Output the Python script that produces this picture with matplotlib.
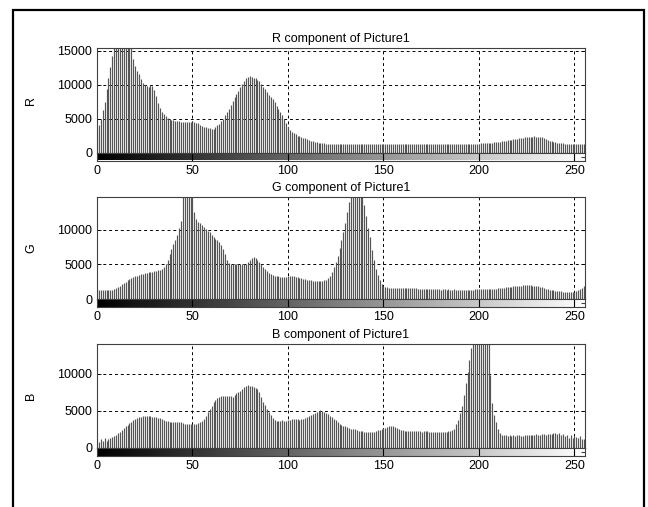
import numpy as np
import matplotlib
matplotlib.use("Agg")
import matplotlib.pyplot as plt
from matplotlib.patches import Rectangle

plt.rcParams['font.family'] = ['Liberation Sans', 'DejaVu Sans']

titles = ["R component of Picture1", "G component of Picture1", "B component of Picture1"]
ylabels = ["R", "G", "B"]
xtick_vals = [0, 50, 100, 150, 200, 250]

r_counts = [
    3500, 4100, 5000, 6300, 7500, 9300, 11000, 12600, 14200, 15800, 16600, 17200, 17500, 17300, 17000, 16600,
    16200, 15900, 15500, 13800, 12700, 12000, 11500, 10800, 10200, 9900, 9800, 9700, 9900, 9800, 9200, 8300,
    7300, 6600, 6000, 5600, 5300, 5100, 4950, 4850, 4750, 4700, 4650, 4600, 4550, 4500, 4500, 4480,
    4470, 4460, 4470, 4450, 4400, 4300, 4050, 3900, 3800, 3700, 3600, 3550, 3500, 3480, 3700, 4000,
    4200, 4600, 5000, 5500, 6000, 6400, 7000, 7600, 8100, 8600, 9100, 9600, 10100, 10500, 10900, 11100,
    11200, 11100, 11000, 10900, 10700, 10500, 10100, 9700, 9300, 8900, 8500, 8100, 7800, 7400, 6900, 6400,
    5900, 5500, 5000, 4300, 3700, 3300, 3000, 2800, 2700, 2500, 2400, 2300, 2200, 2100, 1950, 1850,
    1750, 1700, 1600, 1500, 1450, 1400, 1380, 1330, 1300, 1280, 1300, 1260, 1250, 1280, 1300, 1270,
    1260, 1290, 1300, 1280, 1250, 1270, 1300, 1260, 1280, 1290, 1270, 1250, 1280, 1300, 1270, 1260,
    1290, 1280, 1250, 1270, 1300, 1280, 1260, 1240, 1280, 1300, 1270, 1250, 1260, 1290, 1280, 1260,
    1240, 1270, 1300, 1280, 1250, 1260, 1290, 1300, 1270, 1250, 1280, 1260, 1240, 1270, 1290, 1280,
    1260, 1250, 1270, 1300, 1280, 1260, 1270, 1290, 1280, 1250, 1260, 1300, 1280, 1270, 1290, 1300,
    1310, 1290, 1280, 1300, 1320, 1310, 1290, 1300, 1320, 1330, 1350, 1340, 1380, 1400, 1420, 1450,
    1480, 1520, 1560, 1600, 1650, 1700, 1750, 1780, 1820, 1880, 1950, 2000, 2050, 2100, 2150, 2200,
    2250, 2280, 2300, 2320, 2350, 2360, 2350, 2340, 2330, 2300, 2200, 2050, 1900, 1750, 1650, 1550,
    1480, 1420, 1380, 1350, 1330, 1300, 1320, 1290, 1270, 1300, 1260, 1280, 1250, 1270, 1300, 1240,
]

g_counts = [
    1400, 1350, 1320, 1300, 1310, 1290, 1300, 1320, 1350, 1500, 1600, 1750, 1900, 2100, 2300, 2500,
    2700, 2850, 3000, 3150, 3250, 3350, 3450, 3550, 3650, 3700, 3800, 3850, 3900, 3950, 4000, 4050,
    4150, 4250, 4400, 4600, 5000, 5700, 6500, 7200, 7900, 8500, 9300, 10200, 11200, 15500, 17000, 18000,
    18500, 18000, 16500, 12500, 11500, 11100, 10900, 10700, 10400, 10100, 9800, 9600, 9300, 9000, 8700, 8500,
    8200, 7800, 7200, 6500, 5700, 5200, 5050, 5000, 4980, 5000, 5020, 5000, 4980, 5050, 5100, 5300,
    5600, 5900, 6050, 5950, 5700, 5400, 5000, 4600, 4300, 4000, 3800, 3600, 3450, 3350, 3300, 3250,
    3200, 3150, 3150, 3200, 3250, 3300, 3280, 3250, 3200, 3150, 3100, 3050, 2950, 2850, 2800, 2750,
    2700, 2650, 2600, 2550, 2550, 2600, 2650, 2700, 2800, 3000, 3300, 3900, 4600, 5400, 6200, 7300,
    8500, 9700, 11000, 12500, 14000, 15500, 17500, 18500, 19000, 18800, 17500, 15500, 13500, 12000, 10200, 9000,
    7000, 5600, 4400, 3500, 2700, 2200, 1900, 1750, 1700, 1650, 1620, 1600,
    1600, 1580, 1560, 1600, 1570, 1550, 1580, 1560, 1540, 1520, 1550, 1530, 1500, 1480, 1450, 1430,
    1420, 1400, 1430, 1410, 1380, 1400, 1420, 1390, 1370, 1400, 1380, 1360, 1390, 1370, 1350, 1380,
    1360, 1340, 1370, 1350, 1330, 1360, 1340, 1350, 1370, 1360, 1380, 1400, 1390, 1420, 1410, 1430,
    1440, 1420, 1450, 1470, 1460, 1500, 1520, 1550, 1580, 1620, 1660, 1700, 1750, 1800, 1830, 1860,
    1890, 1920, 1940, 1960, 1970, 1960, 1950, 1960, 1940, 1920, 1900, 1850, 1780, 1700, 1600, 1500,
    1400, 1340, 1300, 1250, 1200, 1180, 1150, 1100, 1080, 1050, 1020, 1000, 980, 960, 1000, 1100,
    1250, 1400, 1650, 1850,
]

b_counts = [
    1100, 800, 1250, 900, 1300, 1000, 1250, 1400, 1500, 1620, 1800, 2000, 2200, 2400, 2650, 2900,
    3150, 3350, 3550, 3750, 3950, 4050, 4150, 4200, 4250, 4250, 4280, 4300, 4250, 4220, 4200, 4150,
    4100, 4000, 3900, 3750, 3650, 3600, 3550, 3500, 3500, 3480, 3450, 3500, 3450, 3350, 3300, 3300,
    3280, 3250, 3300, 3250, 3300, 3350, 3450, 3600, 3900, 4300, 4800, 5200, 5700, 6200, 6500, 6800,
    6900, 6950, 7000, 6950, 6980, 7000, 6950, 6900, 7100, 7400, 7550, 7700, 8000, 8200, 8350, 8450,
    8400, 8300, 8250, 8100, 7900, 7500, 6900, 6200, 5800, 5300, 4900, 4500, 4100, 3800, 3700, 3650,
    3700, 3750, 3700, 3650, 3750, 3800, 3850, 3850, 3900, 3850, 3800, 3850, 3900, 4000, 4150, 4300,
    4450, 4600, 4700, 4850, 5000, 5100, 5050, 4900, 4750, 4550, 4350, 4150, 3950, 3750, 3500, 3300,
    3150, 3000, 2900, 2800, 2700, 2600, 2550, 2500, 2400, 2350, 2300, 2250, 2200, 2150, 2100, 2100,
    2150, 2200, 2300, 2400, 2450, 2550, 2650, 2750, 2850, 2950, 3000, 2950, 2850, 2700, 2550, 2450,
    2400, 2350, 2300, 2350, 2300, 2250, 2300, 2350, 2300, 2250, 2200, 2250, 2300, 2250, 2200, 2150,
    2200, 2150, 2100, 2150, 2200, 2150, 2100, 2200, 2250, 2300, 2450, 2600, 3200, 3800, 4700, 5700,
    7200, 8700, 10300, 11800, 13500, 15500, 17500, 19000, 19500, 19000, 18000, 17000, 15800, 14200, 9800, 6000,
    4500, 3500, 2600, 2000, 1800, 1720, 1700, 1650, 1720, 1680, 1700, 1650, 1720, 1700, 1680, 1650,
    1700, 1720, 1690, 1750, 1800, 1780, 1820, 1790, 1800, 1850, 1820, 1800, 1830, 1900, 1950, 2000,
    2050, 1900, 2000, 1700, 1850, 1600, 1750, 1400, 1700, 1300, 1650, 1500, 1300, 1600, 1250, 1150,
]

all_counts = [r_counts, g_counts, b_counts]
ytick_sets = [[0, 5000, 10000, 15000], [0, 5000, 10000], [0, 5000, 10000]]
ytops = [15370, 14720, 14010]

W, H = 648, 507
fig = plt.figure(figsize=(W / 100, H / 100), dpi=100)

# frame around the whole figure
fig.patches.append(Rectangle((13 / W, -0.02), (644 - 13) / W, 1.02 - 10 / H,
                             transform=fig.transFigure, fill=False, lw=1.6, ec='black'))

# pixel positions (top of histogram, bottom of histogram) for each panel
panel_px = [(48, 152.5), (197, 299), (344, 448)]
left = 97 / W
width = (585 - 97) / W
cbar_h = 8

gradient = np.arange(256).reshape(1, -1)

for i in range(3):
    top, bot = panel_px[i]
    ax = fig.add_axes([left, (H - bot) / H, width, (bot - top) / H])
    cax = fig.add_axes([left, (H - bot - cbar_h) / H, width, cbar_h / H])

    x = np.arange(len(all_counts[i]))
    ax.vlines(x, 0, all_counts[i], colors='#555555', lw=0.85)
    ax.set_xlim(0, 255.5)
    ax.set_ylim(0, ytops[i])
    ax.set_xticks(xtick_vals)
    ax.set_xticklabels([])
    ax.set_yticks(ytick_sets[i])
    ax.set_yticklabels([str(v) for v in ytick_sets[i]], fontsize=9)
    ax.tick_params(axis='both', direction='in', length=3, width=0.6, top=True, right=True)
    ax.tick_params(axis='x', length=0)
    ax.grid(True, color='black', linestyle=(0, (3, 3)), lw=0.7)
    for sp in ax.spines.values():
        sp.set_color('#404040')
        sp.set_linewidth(0.8)
    ax.set_title(titles[i], fontsize=9, pad=4)
    ax.set_ylabel(ylabels[i], fontsize=9)
    ax.yaxis.set_label_coords(-0.122, 0.5)

    cax.imshow(gradient, cmap='gray', aspect='auto', extent=[-0.5, 255.5, 0, 1])
    cax.set_xlim(0, 255.5)
    cax.set_ylim(0, 1)
    for v in xtick_vals:
        cax.axvline(v, color='black', lw=0.8)
    cax.set_xticks(xtick_vals)
    cax.set_xticklabels([str(v) for v in xtick_vals], fontsize=9)
    cax.tick_params(axis='x', length=0, pad=3)
    cax.set_yticks([0.5])
    cax.set_yticklabels([])
    cax.tick_params(axis='y', direction='in', length=3, width=0.8, left=False, right=True, color='#404040')
    for sp in cax.spines.values():
        sp.set_color('#404040')
        sp.set_linewidth(0.8)

fig.savefig("out.png", dpi=100)
